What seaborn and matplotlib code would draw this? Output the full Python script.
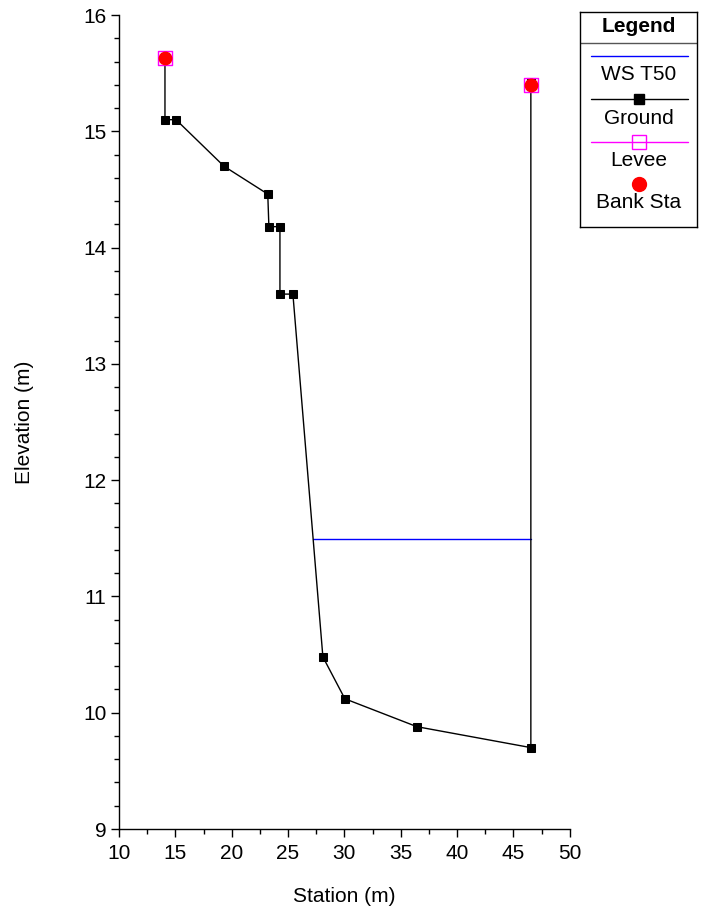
import matplotlib
matplotlib.use("Agg")
import matplotlib.pyplot as plt
import seaborn as sns
import pandas as pd
import numpy as np
from matplotlib.ticker import MultipleLocator

ground_x = [14.08, 14.08, 15.06, 19.31, 23.2, 23.3, 24.28, 24.28, 25.43, 28.09, 30.04, 36.43, 46.54, 46.54]
ground_y = [15.64, 15.10, 15.10, 14.70, 14.46, 14.18, 14.18, 13.60, 13.60, 10.48, 10.12, 9.88, 9.70, 15.42]
ws_x = [27.25, 46.54]
ws_y = [11.49, 11.49]
levee_x = [14.08, 46.54]
levee_y = [15.63, 15.40]
bank_x = [14.08, 46.54]
bank_y = [15.63, 15.40]

sns.set_style("ticks")
plt.rcParams['font.family'] = ['Liberation Sans', 'DejaVu Sans']
plt.rcParams['text.color'] = 'black'
plt.rcParams['axes.labelcolor'] = 'black'
plt.rcParams['xtick.color'] = 'black'
plt.rcParams['ytick.color'] = 'black'

FS = 15

fig = plt.figure(figsize=(7.15, 9.10), dpi=100)
ax = fig.add_axes([0.1664, 0.089, 0.797 - 0.1664, 0.9835 - 0.089])

sns.lineplot(x=ws_x, y=ws_y, ax=ax, color="blue", lw=1.0, sort=False, estimator=None)
gdf = pd.DataFrame({"x": ground_x, "y": ground_y})
sns.lineplot(data=gdf, x="x", y="y", ax=ax, color="black", lw=1.0, sort=False, estimator=None,
             marker="s", markersize=6.3, markeredgecolor="black", markerfacecolor="black")
sns.scatterplot(x=levee_x, y=levee_y, ax=ax, marker="s", s=105, facecolor="none",
                edgecolor="magenta", linewidth=1.0, zorder=4)
sns.scatterplot(x=bank_x, y=bank_y, ax=ax, marker="o", s=100, color="red",
                edgecolor="red", linewidth=0, zorder=5)

ax.set_xlim(10, 50)
ax.set_ylim(9, 16)
ax.xaxis.set_major_locator(MultipleLocator(5))
ax.xaxis.set_minor_locator(MultipleLocator(2.5))
ax.yaxis.set_major_locator(MultipleLocator(1))
ax.yaxis.set_minor_locator(MultipleLocator(0.2))
ax.tick_params(axis="both", which="major", length=6, width=1, labelsize=FS, direction="out", pad=3)
ax.tick_params(axis="x", which="major", pad=5)
ax.tick_params(axis="both", which="minor", length=3.5, width=1, direction="out")
for s in ["top", "right"]:
    ax.spines[s].set_visible(False)
for s in ["left", "bottom"]:
    ax.spines[s].set_color("black")
    ax.spines[s].set_linewidth(1)
ax.set_xlabel("Station (m)", fontsize=FS, labelpad=17)
ax.set_ylabel("Elevation (m)", fontsize=FS, labelpad=35)

# Legend box
W, H = 715, 910
lx0, lx1, ly0, ly1 = 580, 697, 12, 227
lax = fig.add_axes([lx0 / W, 1 - ly1 / H, (lx1 - lx0) / W, (ly1 - ly0) / H])
lax.set_xlim(lx0, lx1)
lax.set_ylim(ly1, ly0)
lax.set_xticks([])
lax.set_yticks([])
for s in lax.spines.values():
    s.set_color("black")
    s.set_linewidth(1)
lax.set_facecolor("white")
cx = (lx0 + lx1) / 2
lax.text(cx, 27, "Legend", ha="center", va="center", fontsize=FS, fontweight="bold")
lax.plot([lx0, lx1], [43, 43], color="#555555", lw=1)
lax.plot([591, 688], [56, 56], color="blue", lw=1)
lax.text(cx, 75, "WS T50", ha="center", va="center", fontsize=FS)
lax.plot([591, 688], [99, 99], color="black", lw=1)
lax.plot([cx], [99], marker="s", color="black", markersize=6.5)
lax.text(cx, 118, "Ground", ha="center", va="center", fontsize=FS)
lax.plot([591, 688], [142, 142], color="magenta", lw=1)
lax.plot([cx], [142], marker="s", markerfacecolor="none", markeredgecolor="magenta", markersize=10, markeredgewidth=1)
lax.text(cx, 160, "Levee", ha="center", va="center", fontsize=FS)
lax.plot([cx], [184], marker="o", color="red", markersize=10)
lax.text(cx, 202, "Bank Sta", ha="center", va="center", fontsize=FS)

fig.savefig("out.png", dpi=100)
